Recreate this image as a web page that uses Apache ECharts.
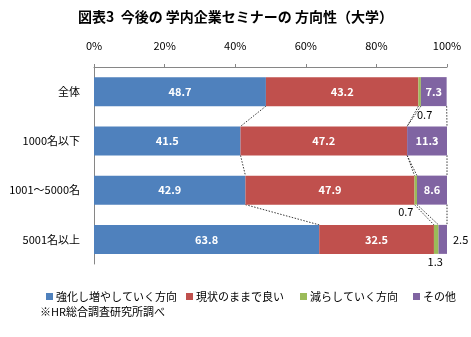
<!DOCTYPE html>
<html>
<head>
<meta charset="utf-8">
<script src="https://cdn.jsdelivr.net/npm/echarts@6/dist/echarts.min.js"></script>
<style>
  html, body { margin: 0; padding: 0; background: #fff; }
  #chart { width: 471px; height: 337px; }
</style>
</head>
<body>
<div id="chart"></div>
<script>
// Categories (top to bottom) and the four answer shares, in %
const categories = ['全体', '1000名以下', '1001～5000名', '5001名以上'];
const seriesNames = ['強化し増やしていく方向', '現状のままで良い', '減らしていく方向', 'その他'];
const strengthen = [48.7, 41.5, 42.9, 63.8];
const keepAsIs = [43.2, 47.2, 47.9, 32.5];
const reduce = [0.7, 0.0, 0.7, 1.3];
const other = [7.3, 11.3, 8.6, 2.5];
const xTickValues = [0, 20, 40, 60, 80, 100];

const FONT = '"Noto Sans CJK JP", "Noto Sans", sans-serif';
const colors = ['#4F81BD', '#C0504D', '#9BBB59', '#8064A2'];
const BAR_W = 29;

const values = [strengthen, keepAsIs, reduce, other];

// Small segments get their labels placed outside the bar
const outsideLabel = {
  2: [
    { position: 'bottom', distance: 3, offset: [5, 0] },
    null,
    { position: 'bottom', distance: 2, offset: [-10, 0] },
    { position: 'bottom', distance: 2, offset: [-1, 0] }
  ],
  3: [null, null, null, { position: 'right', distance: 6 }]
};

function buildData(sIdx) {
  return values[sIdx].map((v, i) => {
    const item = { value: v };
    const extra = outsideLabel[sIdx] && outsideLabel[sIdx][i];
    if (sIdx === 2 && v === 0) {
      item.label = { show: false };
    } else if (extra) {
      item.label = Object.assign({
        show: true, color: '#000', fontWeight: 'normal'
      }, extra);
    }
    return item;
  });
}

const barSeries = seriesNames.map((name, s) => ({
  name: name,
  type: 'bar',
  stack: 'total',
  barWidth: BAR_W,
  itemStyle: { color: colors[s] },
  label: {
    show: true,
    position: 'inside',
    color: '#fff',
    fontWeight: 'bold',
    fontSize: 11,
    fontFamily: FONT,
    formatter: p => Number(p.value).toFixed(1)
  },
  emphasis: { disabled: true },
  data: buildData(s)
}));

// Cumulative boundaries for each category
const cumulative = categories.map((_, i) => {
  let acc = 0;
  return values.map(arr => { acc += arr[i]; return Math.min(acc, 100); });
});

// Dotted connector lines between neighbouring bars
const connectorSeries = {
  type: 'custom',
  silent: true,
  z: 1,
  renderItem: function (params, api) {
    const i = params.dataIndex;
    const half = BAR_W / 2;
    const children = cumulative[i].map((c, k) => {
      const p1 = api.coord([c, i]);
      const p2 = api.coord([cumulative[i + 1][k], i + 1]);
      return {
        type: 'line',
        shape: { x1: p1[0], y1: p1[1] + half, x2: p2[0], y2: p2[1] - half },
        style: { stroke: '#222', lineWidth: 0.9, lineDash: [1.5, 1.5] }
      };
    });
    return { type: 'group', children: children };
  },
  data: categories.slice(0, -1).map((_, i) => [0, i])
};

const legendLefts = [41, 181, 295, 408];
const legends = seriesNames.map((name, i) => ({
  data: [name],
  left: legendLefts[i],
  top: 286,
  icon: 'rect',
  itemWidth: 7,
  itemHeight: 7,
  itemGap: 0,
  selectedMode: false,
  textStyle: { fontSize: 11, fontFamily: FONT, color: '#000', padding: [0, 0, 0, -2] }
}));

const chart = echarts.init(document.getElementById('chart'), null, { renderer: 'canvas' });
chart.setOption({
  animation: false,
  backgroundColor: '#fff',
  title: {
    text: '図表3  今後の 学内企業セミナーの 方向性（大学）',
    left: 'center',
    top: 5,
    textStyle: { fontSize: 14, fontWeight: 'bold', fontFamily: FONT, color: '#000' }
  },
  legend: legends,
  grid: { left: 94, right: 24, top: 67, bottom: 73 },
  xAxis: {
    type: 'value',
    position: 'top',
    min: xTickValues[0],
    max: xTickValues[xTickValues.length - 1],
    interval: xTickValues[1] - xTickValues[0],
    axisLine: { show: true, lineStyle: { color: '#868686', width: 1 } },
    axisTick: { show: true, length: 3, lineStyle: { color: '#868686' } },
    splitLine: { show: false },
    axisLabel: {
      formatter: '{value}%',
      fontSize: 11,
      fontFamily: FONT,
      color: '#000',
      margin: 16
    }
  },
  yAxis: {
    type: 'category',
    inverse: true,
    data: categories,
    axisLine: { show: true, lineStyle: { color: '#868686', width: 1 } },
    axisTick: { show: false },
    axisLabel: { fontSize: 11, fontFamily: FONT, color: '#000', margin: 14 }
  },
  graphic: [{
    type: 'text',
    left: 40,
    top: 306,
    style: { text: '※HR総合調査研究所調べ', fontSize: 11, fontFamily: FONT, fill: '#000' }
  }],
  series: barSeries.concat([connectorSeries])
});
</script>
</body>
</html>
